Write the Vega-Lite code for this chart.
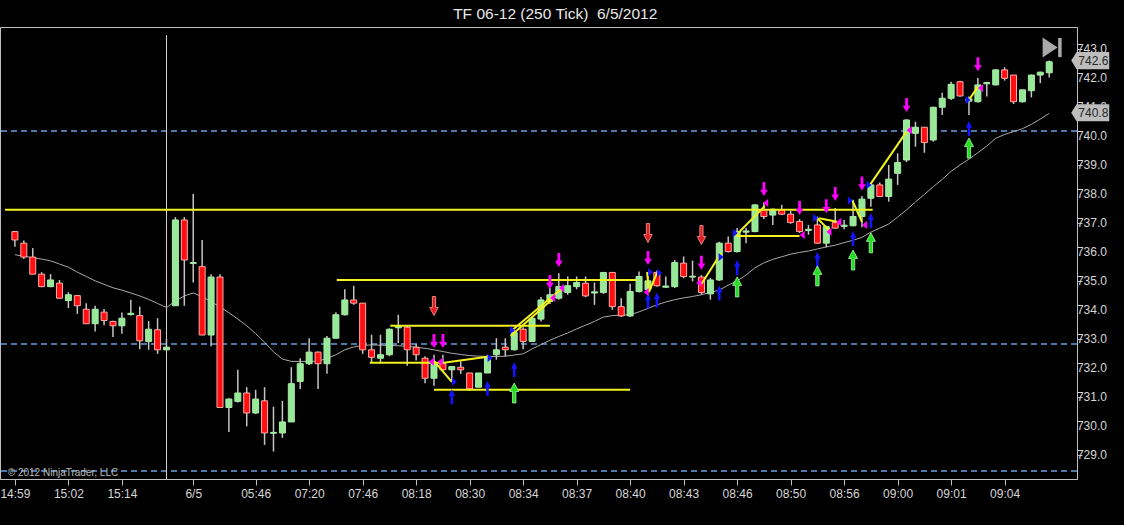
{
  "$schema": "https://vega.github.io/schema/vega-lite/v6.json",
  "width": 1077,
  "height": 452,
  "autosize": {"type": "none"},
  "padding": {"left": 0, "top": 27, "right": 47, "bottom": 46},
  "background": "#000000",
  "config": {
    "view": {"stroke": "#bfbfbf", "strokeWidth": 1},
    "axis": {"labelFont": "Liberation Sans", "labelFontSize": 12, "labelColor": "#d6d6d6", "tickColor": "#c0c0c0", "domainColor": "#c0c0c0", "grid": false, "title": null}
  },
  "datasets": {
    "candles": [
      {"i":0,"o":736.70,"h":736.72,"l":736.18,"c":736.41,"ma":735.90},
      {"i":1,"o":736.30,"h":736.39,"l":735.75,"c":735.82,"ma":735.85},
      {"i":2,"o":735.82,"h":736.13,"l":735.23,"c":735.23,"ma":735.80},
      {"i":3,"o":735.23,"h":735.30,"l":734.78,"c":734.80,"ma":735.75},
      {"i":4,"o":734.80,"h":735.23,"l":734.78,"c":735.03,"ma":735.69},
      {"i":5,"o":734.92,"h":735.03,"l":734.40,"c":734.40,"ma":735.58},
      {"i":6,"o":734.32,"h":734.61,"l":734.06,"c":734.52,"ma":735.47},
      {"i":7,"o":734.49,"h":734.49,"l":733.86,"c":734.14,"ma":735.30},
      {"i":8,"o":734.02,"h":734.23,"l":733.52,"c":733.52,"ma":735.15},
      {"i":9,"o":733.52,"h":734.14,"l":733.25,"c":734.02,"ma":735.00},
      {"i":10,"o":733.92,"h":734.03,"l":733.47,"c":733.63,"ma":734.88},
      {"i":11,"o":733.60,"h":733.62,"l":733.06,"c":733.45,"ma":734.76},
      {"i":12,"o":733.45,"h":733.91,"l":733.17,"c":733.71,"ma":734.68},
      {"i":13,"o":733.84,"h":734.35,"l":733.80,"c":733.88,"ma":734.58},
      {"i":14,"o":733.80,"h":734.11,"l":732.64,"c":732.93,"ma":734.48},
      {"i":15,"o":732.91,"h":733.61,"l":732.62,"c":733.33,"ma":734.36},
      {"i":16,"o":733.31,"h":733.71,"l":732.48,"c":732.62,"ma":734.22},
      {"i":17,"o":732.62,"h":733.00,"l":732.60,"c":732.71,"ma":734.08},
      {"i":18,"o":734.14,"h":737.20,"l":734.14,"c":737.10,"ma":734.30},
      {"i":19,"o":737.10,"h":737.20,"l":734.14,"c":735.72,"ma":734.48},
      {"i":20,"o":735.60,"h":738.00,"l":734.94,"c":735.63,"ma":734.58},
      {"i":21,"o":735.49,"h":736.41,"l":733.13,"c":733.13,"ma":734.45},
      {"i":22,"o":733.13,"h":735.23,"l":732.74,"c":735.13,"ma":734.28},
      {"i":23,"o":735.13,"h":735.23,"l":730.63,"c":730.63,"ma":734.10},
      {"i":24,"o":730.63,"h":730.95,"l":729.78,"c":730.92,"ma":733.90},
      {"i":25,"o":730.84,"h":731.93,"l":730.80,"c":731.13,"ma":733.68},
      {"i":26,"o":731.13,"h":731.33,"l":729.98,"c":730.44,"ma":733.45},
      {"i":27,"o":730.44,"h":731.24,"l":730.40,"c":730.92,"ma":733.18},
      {"i":28,"o":730.86,"h":731.33,"l":729.34,"c":729.75,"ma":732.88},
      {"i":29,"o":729.74,"h":730.66,"l":729.11,"c":729.77,"ma":732.55},
      {"i":30,"o":729.75,"h":730.86,"l":729.58,"c":730.13,"ma":732.30},
      {"i":31,"o":730.13,"h":732.02,"l":730.13,"c":731.45,"ma":732.22},
      {"i":32,"o":731.53,"h":732.33,"l":731.27,"c":732.14,"ma":732.22},
      {"i":33,"o":732.14,"h":733.02,"l":732.10,"c":732.54,"ma":732.22},
      {"i":34,"o":732.54,"h":732.56,"l":731.27,"c":732.14,"ma":732.23},
      {"i":35,"o":732.14,"h":733.10,"l":731.79,"c":733.02,"ma":732.32},
      {"i":36,"o":733.02,"h":733.92,"l":733.00,"c":733.83,"ma":732.45},
      {"i":37,"o":733.83,"h":734.71,"l":733.80,"c":734.34,"ma":732.62},
      {"i":38,"o":734.34,"h":734.83,"l":734.17,"c":734.23,"ma":732.72},
      {"i":39,"o":734.23,"h":734.23,"l":732.48,"c":732.62,"ma":732.77},
      {"i":40,"o":732.62,"h":733.14,"l":732.16,"c":732.36,"ma":732.79},
      {"i":41,"o":732.33,"h":733.14,"l":732.16,"c":732.45,"ma":732.78},
      {"i":42,"o":732.45,"h":733.36,"l":732.40,"c":733.33,"ma":732.77},
      {"i":43,"o":733.38,"h":733.83,"l":732.85,"c":733.42,"ma":732.76},
      {"i":44,"o":733.40,"h":733.45,"l":732.07,"c":732.62,"ma":732.74},
      {"i":45,"o":732.71,"h":732.83,"l":732.25,"c":732.45,"ma":732.71},
      {"i":46,"o":732.33,"h":732.40,"l":731.47,"c":731.64,"ma":732.67},
      {"i":47,"o":731.64,"h":732.45,"l":731.38,"c":732.14,"ma":732.62},
      {"i":48,"o":732.14,"h":732.45,"l":731.90,"c":731.93,"ma":732.56},
      {"i":49,"o":731.93,"h":732.06,"l":731.53,"c":732.04,"ma":732.50},
      {"i":50,"o":732.02,"h":732.22,"l":731.79,"c":731.93,"ma":732.46},
      {"i":51,"o":731.82,"h":731.82,"l":731.20,"c":731.27,"ma":732.42},
      {"i":52,"o":731.33,"h":731.82,"l":731.33,"c":731.82,"ma":732.40},
      {"i":53,"o":731.82,"h":732.45,"l":731.82,"c":732.39,"ma":732.39},
      {"i":54,"o":732.45,"h":733.02,"l":732.28,"c":732.62,"ma":732.39},
      {"i":55,"o":732.71,"h":733.02,"l":732.39,"c":732.62,"ma":732.40},
      {"i":56,"o":732.62,"h":733.31,"l":732.60,"c":733.22,"ma":732.44},
      {"i":57,"o":733.33,"h":733.40,"l":732.64,"c":732.91,"ma":732.48},
      {"i":58,"o":732.91,"h":733.71,"l":732.90,"c":733.71,"ma":732.65},
      {"i":59,"o":733.68,"h":734.44,"l":733.60,"c":734.34,"ma":732.80},
      {"i":60,"o":734.29,"h":734.75,"l":734.20,"c":734.52,"ma":732.95},
      {"i":61,"o":734.40,"h":735.26,"l":734.35,"c":734.80,"ma":733.08},
      {"i":62,"o":734.60,"h":735.15,"l":734.52,"c":734.83,"ma":733.20},
      {"i":63,"o":734.80,"h":735.15,"l":734.71,"c":734.94,"ma":733.34},
      {"i":64,"o":734.92,"h":735.15,"l":734.44,"c":734.48,"ma":733.47},
      {"i":65,"o":734.58,"h":734.94,"l":734.17,"c":734.62,"ma":733.60},
      {"i":66,"o":734.60,"h":735.30,"l":734.55,"c":735.29,"ma":733.75},
      {"i":67,"o":735.29,"h":735.30,"l":734.00,"c":734.11,"ma":733.80},
      {"i":68,"o":734.11,"h":734.40,"l":733.75,"c":733.79,"ma":733.82},
      {"i":69,"o":733.79,"h":734.90,"l":733.75,"c":734.63,"ma":733.83},
      {"i":70,"o":734.63,"h":735.32,"l":734.60,"c":735.15,"ma":733.93},
      {"i":71,"o":734.70,"h":735.30,"l":734.60,"c":735.00,"ma":734.05},
      {"i":72,"o":735.29,"h":735.35,"l":734.80,"c":734.83,"ma":734.17},
      {"i":73,"o":734.78,"h":735.15,"l":734.75,"c":734.82,"ma":734.27},
      {"i":74,"o":734.80,"h":735.72,"l":734.75,"c":735.63,"ma":734.35},
      {"i":75,"o":735.61,"h":735.84,"l":735.09,"c":735.15,"ma":734.41},
      {"i":76,"o":735.13,"h":735.70,"l":734.98,"c":735.16,"ma":734.46},
      {"i":77,"o":735.13,"h":735.20,"l":734.52,"c":734.60,"ma":734.52},
      {"i":78,"o":734.55,"h":735.10,"l":734.35,"c":735.03,"ma":734.60},
      {"i":79,"o":735.03,"h":736.35,"l":735.00,"c":736.30,"ma":734.68},
      {"i":80,"o":736.30,"h":736.53,"l":735.98,"c":736.01,"ma":734.85},
      {"i":81,"o":736.01,"h":736.82,"l":735.98,"c":736.70,"ma":735.00},
      {"i":82,"o":736.68,"h":736.82,"l":736.30,"c":736.72,"ma":735.20},
      {"i":83,"o":736.70,"h":737.65,"l":736.68,"c":737.62,"ma":735.45},
      {"i":84,"o":737.45,"h":737.71,"l":737.13,"c":737.22,"ma":735.62},
      {"i":85,"o":737.27,"h":737.50,"l":736.93,"c":737.47,"ma":735.74},
      {"i":86,"o":737.45,"h":737.62,"l":737.27,"c":737.30,"ma":735.83},
      {"i":87,"o":737.30,"h":737.41,"l":736.97,"c":737.01,"ma":735.92},
      {"i":88,"o":737.05,"h":737.13,"l":736.65,"c":736.70,"ma":735.98},
      {"i":89,"o":736.74,"h":736.93,"l":736.59,"c":736.78,"ma":736.03},
      {"i":90,"o":736.93,"h":737.22,"l":736.28,"c":736.30,"ma":736.10},
      {"i":91,"o":736.30,"h":736.90,"l":736.16,"c":736.87,"ma":736.17},
      {"i":92,"o":737.01,"h":737.51,"l":736.80,"c":736.82,"ma":736.23},
      {"i":93,"o":736.88,"h":737.10,"l":736.78,"c":736.92,"ma":736.32},
      {"i":94,"o":736.90,"h":737.79,"l":736.88,"c":737.22,"ma":736.40},
      {"i":95,"o":737.22,"h":737.93,"l":736.85,"c":737.82,"ma":736.50},
      {"i":96,"o":737.85,"h":738.39,"l":737.56,"c":738.31,"ma":736.68},
      {"i":97,"o":738.31,"h":738.39,"l":737.90,"c":737.91,"ma":736.82},
      {"i":98,"o":737.91,"h":739.00,"l":737.73,"c":738.51,"ma":736.96},
      {"i":99,"o":738.71,"h":739.40,"l":738.31,"c":739.08,"ma":737.20},
      {"i":100,"o":739.17,"h":740.58,"l":739.10,"c":740.55,"ma":737.45},
      {"i":101,"o":740.09,"h":740.49,"l":739.63,"c":740.30,"ma":737.72},
      {"i":102,"o":740.30,"h":740.30,"l":739.42,"c":739.77,"ma":737.98},
      {"i":103,"o":739.86,"h":741.00,"l":739.80,"c":740.99,"ma":738.25},
      {"i":104,"o":740.99,"h":741.49,"l":740.72,"c":741.30,"ma":738.50},
      {"i":105,"o":741.30,"h":741.87,"l":741.24,"c":741.78,"ma":738.78},
      {"i":106,"o":741.87,"h":741.90,"l":741.35,"c":741.38,"ma":739.00},
      {"i":107,"o":741.20,"h":741.36,"l":740.72,"c":741.28,"ma":739.20},
      {"i":108,"o":741.18,"h":742.00,"l":741.15,"c":741.76,"ma":739.42},
      {"i":109,"o":741.80,"h":741.87,"l":741.36,"c":741.84,"ma":739.65},
      {"i":110,"o":741.76,"h":742.30,"l":741.75,"c":742.28,"ma":739.92},
      {"i":111,"o":742.28,"h":742.37,"l":741.91,"c":741.99,"ma":740.05},
      {"i":112,"o":742.10,"h":742.10,"l":741.10,"c":741.18,"ma":740.15},
      {"i":113,"o":741.18,"h":741.60,"l":741.15,"c":741.59,"ma":740.25},
      {"i":114,"o":741.56,"h":742.12,"l":741.33,"c":742.10,"ma":740.40},
      {"i":115,"o":742.10,"h":742.22,"l":741.82,"c":742.20,"ma":740.58},
      {"i":116,"o":742.18,"h":742.60,"l":742.02,"c":742.56,"ma":740.78}
    ],
    "dash": [{"p": 740.17}, {"p": 732.82}, {"p": 728.44}],
    "yticks": [{"v":729},{"v":730},{"v":731},{"v":732},{"v":733},{"v":734},{"v":735},{"v":736},{"v":737},{"v":738},{"v":739},{"v":740},{"v":741},{"v":742},{"v":743}],
    "ylines": [
      {"x1":-1.11,"x2":96.2,"y1":737.45,"y2":737.45},
      {"x1":36.1,"x2":69.8,"y1":735.03,"y2":735.03},
      {"x1":42.1,"x2":60.0,"y1":733.45,"y2":733.45},
      {"x1":39.8,"x2":48.1,"y1":732.17,"y2":732.17},
      {"x1":48.1,"x2":53.0,"y1":732.17,"y2":732.38},
      {"x1":47.0,"x2":69.0,"y1":731.24,"y2":731.24},
      {"x1":80.9,"x2":88.0,"y1":736.55,"y2":736.55},
      {"x1":47.0,"x2":49.0,"y1":732.24,"y2":731.51},
      {"x1":55.8,"x2":61.4,"y1":733.30,"y2":734.75},
      {"x1":55.6,"x2":60.3,"y1":733.10,"y2":734.37},
      {"x1":70.9,"x2":71.1,"y1":735.30,"y2":734.61},
      {"x1":71.1,"x2":72.0,"y1":734.61,"y2":735.27},
      {"x1":77.0,"x2":79.2,"y1":734.89,"y2":735.96},
      {"x1":80.9,"x2":84.1,"y1":736.58,"y2":737.58},
      {"x1":90.0,"x2":91.3,"y1":737.16,"y2":736.75},
      {"x1":90.2,"x2":92.2,"y1":737.16,"y2":737.04},
      {"x1":93.9,"x2":95.0,"y1":737.79,"y2":737.04},
      {"x1":95.9,"x2":100.0,"y1":738.31,"y2":740.15},
      {"x1":107.0,"x2":108.0,"y1":741.24,"y2":741.70}
    ],
    "marks": [
      {"k":"md","i":47.0,"p":732.92},{"k":"md","i":48.0,"p":732.92},{"k":"md","i":61.0,"p":735.72},{"k":"md","i":60.0,"p":734.96},{"k":"md","i":71.0,"p":735.79},{"k":"md","i":77.0,"p":735.62},{"k":"md","i":84.0,"p":738.17},{"k":"md","i":88.0,"p":737.51},{"k":"md","i":91.0,"p":737.57},{"k":"md","i":92.0,"p":738.0},{"k":"md","i":95.0,"p":738.36},{"k":"md","i":100.0,"p":741.07},{"k":"md","i":108.0,"p":742.47},
      {"k":"rd","i":47.0,"p":734.13},{"k":"rd","i":71.0,"p":736.65},{"k":"rd","i":77.0,"p":736.58},
      {"k":"bu","i":49.0,"p":731.0},{"k":"bu","i":53.0,"p":731.29},{"k":"bu","i":56.0,"p":731.94},{"k":"bu","i":71.0,"p":734.30},{"k":"bu","i":72.0,"p":734.34},{"k":"bu","i":79.0,"p":734.58},{"k":"bu","i":81.0,"p":735.46},{"k":"bu","i":90.0,"p":735.74},{"k":"bu","i":94.0,"p":736.46},{"k":"bu","i":96.0,"p":737.08},{"k":"bu","i":107.0,"p":740.26},
      {"k":"gu","i":56.0,"p":731.13},{"k":"gu","i":81.0,"p":734.79},{"k":"gu","i":90.0,"p":735.17},{"k":"gu","i":94.0,"p":735.72},{"k":"gu","i":96.0,"p":736.31},{"k":"gu","i":107.0,"p":739.58},
      {"k":"bt","i":49.3,"p":731.52},{"k":"bt","i":53.3,"p":732.34},{"k":"bt","i":55.8,"p":733.30},{"k":"bt","i":71.3,"p":735.30},{"k":"bt","i":72.3,"p":735.27},{"k":"bt","i":79.2,"p":735.82},{"k":"bt","i":80.8,"p":736.65},{"k":"bt","i":89.8,"p":737.17},{"k":"bt","i":93.7,"p":737.77},{"k":"bt","i":95.8,"p":738.31},{"k":"bt","i":106.9,"p":741.24},
      {"k":"mt","i":46.7,"p":732.21},{"k":"mt","i":47.7,"p":732.21},{"k":"mt","i":60.3,"p":734.41},{"k":"mt","i":61.3,"p":734.75},{"k":"mt","i":70.8,"p":734.61},{"k":"mt","i":76.7,"p":734.93},{"k":"mt","i":84.2,"p":737.69},{"k":"mt","i":88.3,"p":736.58},{"k":"mt","i":91.3,"p":736.69},{"k":"mt","i":92.4,"p":737.03},{"k":"mt","i":95.3,"p":736.93},{"k":"mt","i":100.3,"p":740.20},{"k":"mt","i":108.3,"p":741.65}
    ],
    "tags": [{"p": 742.6, "t": "742.6"}, {"p": 740.8, "t": "740.8"}]
  },
  "layer": [
    {
      "data": {"name": "dash"},
      "mark": {"type": "rule", "color": "#4d77a8", "strokeWidth": 2, "strokeDash": [6, 4]},
      "encoding": {
        "y": {"field": "p", "type": "quantitative", "title": null, "scale": {"domain": [728.162, 743.759], "nice": false, "zero": false},
          "axis": {"orient": "right", "values": [729,730,731,732,733,734,735,736,737,738,739,740,741,742,743], "labels": false, "tickSize": 5}}
      }
    },
    {
      "data": {"values": [{"i": 17}]},
      "mark": {"type": "rule", "color": "#d0d0d0", "strokeWidth": 1},
      "encoding": {
        "x": {"field": "i", "type": "quantitative", "title": null, "scale": {"domain": [-1.111, 118.556], "nice": false, "zero": false},
          "axis": {"values": [0,6,12,20,27,33,39,45,51,57,63,69,75,81,87,93,99,105,111], "labelExpr": "['14:59','15:02','15:14','6/5','05:46','07:20','07:46','08:18','08:30','08:34','08:37','08:40','08:43','08:46','08:50','08:56','09:00','09:01','09:04'][indexof([0,6,12,20,27,33,39,45,51,57,63,69,75,81,87,93,99,105,111], datum.value)]", "tickSize": 6, "labelPadding": 3, "labelFlush": false, "labelOverlap": false}},
        "y": {"datum": 743.48, "type": "quantitative", "scale": {"domain": [728.162, 743.759], "nice": false, "zero": false}},
        "y2": {"datum": 728.162}
      }
    },
    {
      "data": {"name": "candles"},
      "mark": {"type": "line", "color": "#aaaaaa", "strokeWidth": 1},
      "encoding": {
        "x": {"field": "i", "type": "quantitative", "title": null, "scale": {"domain": [-1.111, 118.556], "nice": false, "zero": false}},
        "y": {"field": "ma", "type": "quantitative", "title": null, "scale": {"domain": [728.162, 743.759], "nice": false, "zero": false}}
      }
    },
    {
      "data": {"name": "candles"},
      "mark": {"type": "rule", "color": "#c4c4c4", "strokeWidth": 1.5},
      "encoding": {
        "x": {"field": "i", "type": "quantitative", "title": null, "scale": {"domain": [-1.111, 118.556], "nice": false, "zero": false}},
        "y": {"field": "l", "type": "quantitative", "title": null, "scale": {"domain": [728.162, 743.759], "nice": false, "zero": false}},
        "y2": {"field": "h"}
      }
    },
    {
      "data": {"name": "candles"},
      "mark": {"type": "bar", "width": 6, "strokeWidth": 1},
      "encoding": {
        "x": {"field": "i", "type": "quantitative", "title": null, "scale": {"domain": [-1.111, 118.556], "nice": false, "zero": false}},
        "y": {"field": "o", "type": "quantitative", "title": null, "scale": {"domain": [728.162, 743.759], "nice": false, "zero": false}},
        "y2": {"field": "c"},
        "fill": {"condition": {"test": "datum.c >= datum.o", "value": "#97e897"}, "value": "#ff0f0f"},
        "stroke": {"condition": {"test": "datum.c >= datum.o", "value": "#a8eea8"}, "value": "#ffaaaa"}
      }
    },
    {
      "data": {"name": "ylines"},
      "mark": {"type": "rule", "color": "#f2f21e", "strokeWidth": 2},
      "encoding": {
        "x": {"field": "x1", "type": "quantitative", "title": null, "scale": {"domain": [-1.111, 118.556], "nice": false, "zero": false}},
        "x2": {"field": "x2"},
        "y": {"field": "y1", "type": "quantitative", "title": null, "scale": {"domain": [728.162, 743.759], "nice": false, "zero": false}},
        "y2": {"field": "y2"}
      }
    },
    {
      "data": {"name": "marks"},
      "transform": [{"filter": "datum.k == 'md'"}],
      "mark": {"type": "point", "filled": true, "opacity": 1, "color": "#ff00ff", "size": 196, "shape": "M-0.2,-1L0.2,-1L0.2,0.1L0.55,0.1L0,1L-0.55,0.1L-0.2,0.1Z"},
      "encoding": {
        "x": {"field": "i", "type": "quantitative", "title": null, "scale": {"domain": [-1.111, 118.556], "nice": false, "zero": false}},
        "y": {"field": "p", "type": "quantitative", "title": null, "scale": {"domain": [728.162, 743.759], "nice": false, "zero": false}}
      }
    },
    {
      "data": {"name": "marks"},
      "transform": [{"filter": "datum.k == 'rd'"}],
      "mark": {"type": "point", "filled": true, "opacity": 1, "fill": "#e32020", "stroke": "#ff9a9a", "strokeWidth": 0.8, "size": 361, "shape": "M-0.17,-1L0.17,-1L0.17,0.15L0.45,0.15L0,1L-0.45,0.15L-0.17,0.15Z"},
      "encoding": {
        "x": {"field": "i", "type": "quantitative", "title": null, "scale": {"domain": [-1.111, 118.556], "nice": false, "zero": false}},
        "y": {"field": "p", "type": "quantitative", "title": null, "scale": {"domain": [728.162, 743.759], "nice": false, "zero": false}}
      }
    },
    {
      "data": {"name": "marks"},
      "transform": [{"filter": "datum.k == 'bu'"}],
      "mark": {"type": "point", "filled": true, "opacity": 1, "color": "#1414ff", "size": 225, "shape": "M-0.17,1L0.17,1L0.17,-0.1L0.42,-0.1L0,-1L-0.42,-0.1L-0.17,-0.1Z"},
      "encoding": {
        "x": {"field": "i", "type": "quantitative", "title": null, "scale": {"domain": [-1.111, 118.556], "nice": false, "zero": false}},
        "y": {"field": "p", "type": "quantitative", "title": null, "scale": {"domain": [728.162, 743.759], "nice": false, "zero": false}}
      }
    },
    {
      "data": {"name": "marks"},
      "transform": [{"filter": "datum.k == 'gu'"}],
      "mark": {"type": "point", "filled": true, "opacity": 1, "fill": "#22dd22", "stroke": "#a8f5a8", "strokeWidth": 0.8, "size": 400, "shape": "M-0.17,1L0.17,1L0.17,-0.15L0.45,-0.15L0,-1L-0.45,-0.15L-0.17,-0.15Z"},
      "encoding": {
        "x": {"field": "i", "type": "quantitative", "title": null, "scale": {"domain": [-1.111, 118.556], "nice": false, "zero": false}},
        "y": {"field": "p", "type": "quantitative", "title": null, "scale": {"domain": [728.162, 743.759], "nice": false, "zero": false}}
      }
    },
    {
      "data": {"name": "marks"},
      "transform": [{"filter": "datum.k == 'bt'"}],
      "mark": {"type": "point", "filled": true, "opacity": 1, "color": "#1414ff", "size": 70, "shape": "M-0.6,-1L0.6,0L-0.6,1Z"},
      "encoding": {
        "x": {"field": "i", "type": "quantitative", "title": null, "scale": {"domain": [-1.111, 118.556], "nice": false, "zero": false}},
        "y": {"field": "p", "type": "quantitative", "title": null, "scale": {"domain": [728.162, 743.759], "nice": false, "zero": false}}
      }
    },
    {
      "data": {"name": "marks"},
      "transform": [{"filter": "datum.k == 'mt'"}],
      "mark": {"type": "point", "filled": true, "opacity": 1, "color": "#ff00ff", "size": 70, "shape": "M0.6,-1L-0.6,0L0.6,1Z"},
      "encoding": {
        "x": {"field": "i", "type": "quantitative", "title": null, "scale": {"domain": [-1.111, 118.556], "nice": false, "zero": false}},
        "y": {"field": "p", "type": "quantitative", "title": null, "scale": {"domain": [728.162, 743.759], "nice": false, "zero": false}}
      }
    },
    {
      "data": {"name": "yticks"},
      "mark": {"type": "text", "color": "#d6d6d6", "font": "Liberation Sans", "fontSize": 12, "align": "left", "baseline": "middle"},
      "encoding": {
        "x": {"datum": 119.11, "type": "quantitative", "scale": {"domain": [-1.111, 118.556], "nice": false, "zero": false}},
        "y": {"field": "v", "type": "quantitative", "title": null, "scale": {"domain": [728.162, 743.759], "nice": false, "zero": false}},
        "text": {"field": "v", "format": ".1f"}
      }
    },
    {
      "data": {"name": "tags"},
      "mark": {"type": "point", "filled": true, "opacity": 1, "color": "#bdbdbd", "size": 1444, "shape": "M-1,0L-0.72,-0.45L1,-0.45L1,0.45L-0.72,0.45Z"},
      "encoding": {
        "x": {"datum": 120.6, "type": "quantitative", "scale": {"domain": [-1.111, 118.556], "nice": false, "zero": false}},
        "y": {"field": "p", "type": "quantitative", "title": null, "scale": {"domain": [728.162, 743.759], "nice": false, "zero": false}}
      }
    },
    {
      "data": {"name": "tags"},
      "mark": {"type": "text", "color": "#262626", "font": "Liberation Sans", "fontSize": 12, "align": "center", "baseline": "middle"},
      "encoding": {
        "x": {"datum": 120.95, "type": "quantitative", "scale": {"domain": [-1.111, 118.556], "nice": false, "zero": false}},
        "y": {"field": "p", "type": "quantitative", "title": null, "scale": {"domain": [728.162, 743.759], "nice": false, "zero": false}},
        "text": {"field": "t"}
      }
    },
    {
      "data": {"values": [{"n": 1}]},
      "mark": {"type": "point", "filled": true, "opacity": 1, "color": "#a9a9a9", "size": 400, "shape": "M-0.75,-1L0.75,0L-0.75,1Z"},
      "encoding": {
        "x": {"datum": 116.1, "type": "quantitative", "scale": {"domain": [-1.111, 118.556], "nice": false, "zero": false}},
        "y": {"datum": 743.05, "type": "quantitative", "scale": {"domain": [728.162, 743.759], "nice": false, "zero": false}}
      }
    },
    {
      "data": {"values": [{"n": 1}]},
      "mark": {"type": "rule", "color": "#a9a9a9", "strokeWidth": 3.5},
      "encoding": {
        "x": {"datum": 117.2, "type": "quantitative", "scale": {"domain": [-1.111, 118.556], "nice": false, "zero": false}},
        "y": {"datum": 743.38, "type": "quantitative", "scale": {"domain": [728.162, 743.759], "nice": false, "zero": false}},
        "y2": {"datum": 742.72}
      }
    },
    {
      "data": {"values": [{"t": "© 2012 NinjaTrader, LLC"}]},
      "mark": {"type": "text", "color": "#b8b8b8", "font": "Liberation Sans", "fontSize": 10, "align": "left", "baseline": "alphabetic"},
      "encoding": {
        "x": {"datum": -0.8, "type": "quantitative", "scale": {"domain": [-1.111, 118.556], "nice": false, "zero": false}},
        "y": {"datum": 728.27, "type": "quantitative", "scale": {"domain": [728.162, 743.759], "nice": false, "zero": false}},
        "text": {"field": "t"}
      }
    },
    {
      "data": {"values": [{"t": "TF 06-12 (250 Tick) \u00a06/5/2012"}]},
      "mark": {"type": "text", "color": "#e8e8e8", "font": "Liberation Sans", "fontSize": 15.5, "align": "center", "baseline": "alphabetic"},
      "encoding": {
        "x": {"datum": 60.6, "type": "quantitative", "scale": {"domain": [-1.111, 118.556], "nice": false, "zero": false}},
        "y": {"datum": 744.04, "type": "quantitative", "scale": {"domain": [728.162, 743.759], "nice": false, "zero": false}},
        "text": {"field": "t"}
      }
    }
  ]
}
